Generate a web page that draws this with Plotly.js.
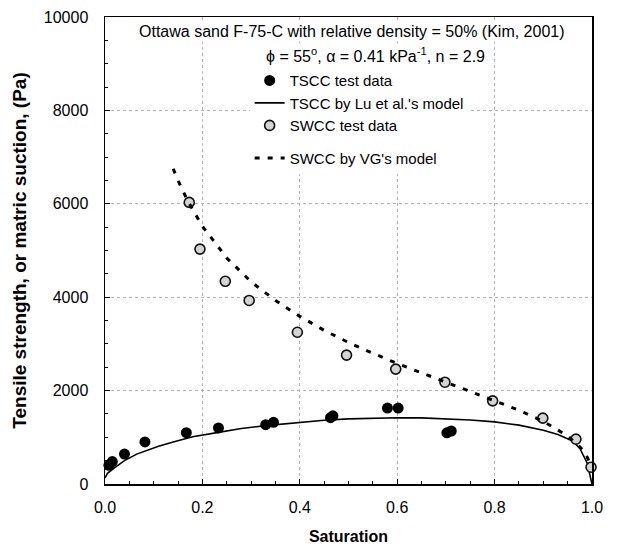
<!DOCTYPE html>
<html>
<head>
<meta charset="utf-8">
<script src="https://cdn.plot.ly/plotly-3.0.1.min.js"></script>
<style>html,body{margin:0;padding:0;background:#fff;}#chart{width:617px;height:551px;}</style>
</head>
<body>
<div id="chart"></div>
<script>
// TSCC test data
const tsccX = [0.008, 0.015, 0.04, 0.082, 0.167, 0.233, 0.33, 0.346, 0.463, 0.468, 0.58, 0.602, 0.702, 0.711];
const tsccY = [400, 480, 640, 900, 1100, 1200, 1270, 1320, 1420, 1460, 1625, 1625, 1095, 1135];
// TSCC by Lu et al.'s model
const luX = [0, 0.005, 0.02, 0.04, 0.065, 0.09, 0.11, 0.14, 0.18, 0.23, 0.28, 0.33, 0.4, 0.45, 0.5, 0.55, 0.6, 0.65, 0.7, 0.75, 0.8, 0.85, 0.9, 0.93, 0.96, 0.975, 0.99, 1.0];
const luY = [130, 230, 350, 500, 640, 740, 810, 900, 1010, 1100, 1190, 1250, 1320, 1365, 1395, 1415, 1420, 1415, 1400, 1370, 1330, 1260, 1150, 1060, 920, 760, 450, 0];
// SWCC test data
const swccX = [0.173, 0.195, 0.247, 0.296, 0.395, 0.496, 0.597, 0.698, 0.796, 0.899, 0.967, 0.998];
const swccY = [6030, 5030, 4340, 3930, 3250, 2760, 2460, 2180, 1780, 1410, 960, 360];
// SWCC by VG's model
const vgX = [0.14, 0.15, 0.17, 0.2, 0.25, 0.3, 0.35, 0.4, 0.45, 0.5, 0.55, 0.6, 0.65, 0.7, 0.75, 0.8, 0.85, 0.9, 0.93, 0.95, 0.97, 0.98, 0.99, 0.995];
const vgY = [6750, 6500, 6060, 5520, 4840, 4330, 3930, 3590, 3290, 3030, 2800, 2580, 2380, 2180, 1990, 1790, 1580, 1340, 1160, 1030, 850, 740, 580, 460];

const FONT = 'Liberation Sans, Arial, sans-serif';

const traces = [
  {x: tsccX, y: tsccY, type: 'scatter', mode: 'markers', name: 'TSCC test data',
   legendgroup: 'a', cliponaxis: false,
   marker: {color: '#000', size: 11, line: {color: '#000', width: 0}}},
  {x: luX, y: luY, type: 'scatter', mode: 'lines', name: "TSCC by Lu et al.'s model",
   legendgroup: 'a', line: {color: '#000', width: 1.6}},
  {x: swccX, y: swccY, type: 'scatter', mode: 'markers', name: 'SWCC test data',
   legendgroup: 'a', cliponaxis: false,
   marker: {color: '#d4d4d4', size: 10, line: {color: '#111', width: 1.6}}},
  {x: vgX, y: vgY, type: 'scatter', mode: 'lines', name: "SWCC by VG's model",
   legendgroup: 'b', line: {color: '#000', width: 3, dash: '5px,8px'}}
];

const layout = {
  width: 617, height: 551,
  margin: {l: 105, r: 25, t: 17, b: 67},
  paper_bgcolor: '#fff', plot_bgcolor: '#fff',
  font: {family: FONT, color: '#000', size: 15},
  showlegend: true,
  legend: {x: 0.297, y: 0.899, xanchor: 'left', yanchor: 'top', bgcolor: '#fff',
           font: {family: FONT, size: 15, color: '#000'}, tracegroupgap: 10,
           traceorder: 'grouped', borderwidth: 0},
  xaxis: {range: [0, 1], dtick: 0.2, tick0: 0, tickformat: '.1f',
          showgrid: true, gridcolor: '#b4b4b4', griddash: 'dot', gridwidth: 1,
          showline: true, linecolor: '#000', linewidth: 1.5, mirror: true,
          ticks: 'inside', ticklen: 5, tickcolor: '#000', zeroline: false,
          ticklabelstandoff: 8,
          minor: {dtick: 0.05, ticks: 'inside', ticklen: 3, tickcolor: '#000', showgrid: false},
          tickfont: {family: FONT, size: 16, color: '#000'},
          title: {text: '<b>Saturation</b>', font: {family: FONT, size: 16, color: '#000'}, standoff: 16}},
  yaxis: {range: [0, 10000], dtick: 2000, tick0: 0, tickformat: 'd',
          showgrid: true, gridcolor: '#b4b4b4', griddash: 'dot', gridwidth: 1,
          showline: true, linecolor: '#000', linewidth: 1.5, mirror: true,
          ticks: 'inside', ticklen: 5, tickcolor: '#000', zeroline: false,
          ticklabelstandoff: 12,
          minor: {dtick: 500, ticks: 'inside', ticklen: 3, tickcolor: '#000', showgrid: false},
          tickfont: {family: FONT, size: 16, color: '#000'},
          title: {text: '<b>Tensile strength, or matric suction, (Pa)</b>', font: {family: FONT, size: 19, color: '#000'}, standoff: 12}},
  annotations: [
    {xref: 'paper', yref: 'paper', x: 0.507, y: 0.968, xanchor: 'center', yanchor: 'middle',
     text: 'Ottawa sand F-75-C with relative density = 50% (Kim, 2001)', showarrow: false,
     bgcolor: '#fff', font: {family: FONT, size: 16, color: '#000'}},
    {xref: 'paper', yref: 'paper', x: 0.556, y: 0.919, xanchor: 'center', yanchor: 'middle',
     text: 'ϕ = 55<sup>o</sup>, α = 0.41 kPa<sup>-1</sup>, n = 2.9', showarrow: false,
     bgcolor: '#fff', font: {family: FONT, size: 16, color: '#000'}}
  ]
};

Plotly.newPlot('chart', traces, layout, {displayModeBar: false, staticPlot: true});
</script>
</body>
</html>
